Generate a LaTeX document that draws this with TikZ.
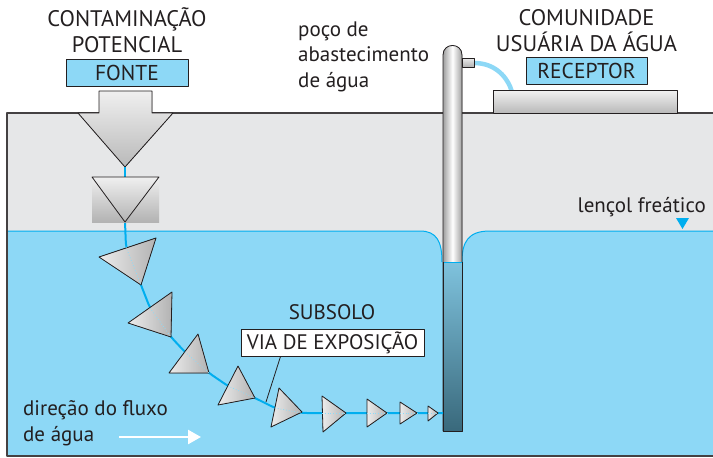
\documentclass[tikz,border=0pt]{standalone}
\usepackage{fontspec}
\setmainfont{PT Sans}
\usetikzlibrary{arrows.meta}
\definecolor{agua}{RGB}{141,216,246}
\definecolor{linha}{RGB}{0,174,239}
\definecolor{solo}{RGB}{230,231,232}
\definecolor{tinta}{RGB}{35,31,32}

\begin{document}
\begin{tikzpicture}[x=1pt, y=-1pt, line join=round,
  every node/.style={text=tinta},
  titulo/.style={inner sep=0pt, font=\fontsize{22.5}{25.5}\selectfont},
  legenda/.style={inner sep=0pt, font=\fontsize{21}{25.5}\selectfont},
  rotulo/.style={draw=tinta, line width=1pt, fill=agua, inner sep=0pt, minimum height=27pt,
    font=\fontsize{21.5}{25}\selectfont},
  caixa/.style={draw=tinta, line width=1pt, fill=white, inner sep=0pt, minimum height=27pt,
    font=\fontsize{21}{25}\selectfont},
  seta/.style={draw=tinta, line width=0.8pt, left color=gray!15, right color=gray!60},
  fluxo/.style={linha, line width=2pt, rounded corners=5pt},
  rastro/.style={linha!45, dotted, line width=0.8pt}]
  \useasboundingbox (0,0) rectangle (713,458);

  % solo e lencol
  \fill[solo] (7,113) rectangle (713,456);
  \fill[agua] (7,231) -- (420,231) .. controls (437,231) and (442,242) .. (442,262)
    -- (462,262) .. controls (462,242) and (468,231) .. (490,231) -- (713,231)
    -- (713,456) -- (7,456) -- cycle;
  \draw[linha, line width=1pt] (7,231) -- (420,231) .. controls (437,231) and (442,242) .. (442,262);
  \draw[linha, line width=1pt] (462,262) .. controls (462,242) and (468,231) .. (490,231) -- (713,231);
  \draw[tinta!85, line width=1.2pt] (713,113) -- (7,113) -- (7,456) -- (713,456);
  \fill[linha] (676,218) -- (689,218) -- (682.5,229) -- cycle;

  % poco
  \draw[agua, line width=4.5pt] (474,63) .. controls (496,63) and (508,78) .. (512,92);
  \filldraw[draw=tinta, line width=0.8pt, left color=gray!75, right color=gray!75, middle color=white]
    (443,431) -- (443,55) .. controls (443,42.3) and (462,42.3) .. (462,55) -- (462,431) -- cycle;
  \fill[top color=agua!90!black, bottom color=agua!45!black!90!linha] (443,262) rectangle (462,431);
  \draw[linha, line width=0.8pt] (443,262) -- (462,262);
  \draw[tinta, line width=0.8pt] (443,262) -- (443,431) -- (462,431) -- (462,262);
  \filldraw[draw=tinta, line width=0.8pt, top color=gray!15, bottom color=gray!60] (462,58) rectangle (474,67);

  % receptor
  \filldraw[draw=tinta, line width=0.8pt, top color=gray!10, bottom color=gray!55] (493,90) rectangle (677,113);

  % fonte
  \filldraw[draw=tinta, line width=0.8pt, top color=gray!12, bottom color=gray!55]
    (99,91) -- (152,91) -- (152,113) -- (173,113) -- (125,167) -- (78,113) -- (99,113) -- cycle;

  % caminho do contaminante
  \coordinate (f0) at (125,167);
  \coordinate (f1) at (125,177);
  \coordinate (f2) at (125,222);
  \coordinate (e1) at (126,247);  \coordinate (s1) at (141,285);
  \coordinate (e2) at (150,308);  \coordinate (s2) at (171,337);
  \coordinate (e3) at (185,352);  \coordinate (s3) at (209,373);
  \coordinate (e4) at (228,386);  \coordinate (s4) at (255,398);
  \coordinate (e5) at (275,408);  \coordinate (s5) at (302,413);
  \coordinate (e6) at (322,413);  \coordinate (s6) at (346,413);
  \coordinate (e7) at (367,413);  \coordinate (s7) at (387,413);
  \coordinate (e8) at (400,413);  \coordinate (s8) at (417,413);
  \coordinate (e9) at (428,413);  \coordinate (s9) at (438,413);
  \coordinate (poco) at (443,413);
  \draw[fluxo] (f0) -- (f1);
  \draw[fluxo] (f2) -- (e1) -- (s1) -- (e2) -- (s2) -- (e3) -- (s3) -- (e4) -- (s4)
    -- (e5) -- (s5) -- (poco);

  \fill[top color=gray!12, bottom color=gray!60] (92,177) rectangle (159,222);
  \draw[tinta, line width=0.8pt] (92,177) -- (159,177) -- (125,222) -- cycle;

  \filldraw[seta] (99,257) -- (156,238) -- (141,285) -- cycle;
  \filldraw[seta] (128,323) -- (172,292) -- (171,337) -- cycle;
  \filldraw[seta] (198,334) -- (169,373) -- (209,373) -- cycle;
  \filldraw[seta] (238,366) -- (218,405) -- (255,398) -- cycle;
  \filldraw[seta] (279,388) -- (271,427) -- (302,412) -- cycle;
  \filldraw[seta] (322,396) -- (323,432) -- (346,413) -- cycle;
  \filldraw[seta] (367,399) -- (367,427) -- (387,413) -- cycle;
  \filldraw[seta] (400,402) -- (400,424) -- (417,413) -- cycle;
  \filldraw[seta] (428,406) -- (428,421) -- (438,413) -- cycle;
  \foreach \i in {1,...,9}
    \draw[rastro] (e\i) -- (s\i);

  % textos (base = ultima linha)
  \node[titulo, anchor=base, align=center] (contam) at (127,52) {CONTAMINAÇÃO\\POTENCIAL};
  \node[rotulo, minimum width=122pt] (fonte) at (127,72.5) {FONTE};
  \node[titulo, anchor=base, align=center] (comunidade) at (586.5,51) {COMUNIDADE\\USUÁRIA DA ÁGUA};
  \node[rotulo, minimum width=121pt] (receptor) at (586.5,70.5) {RECEPTOR};
  \node[legenda, anchor=base west, align=left] (pocotxt) at (298,87) {poço de\\abastecimento\\de água};
  \node[legenda, anchor=base east] (lencol) at (706,212) {lençol freático};
  \node[legenda, anchor=base] (subsolo) at (332,319) {SUBSOLO};
  \node[caixa, minimum width=183pt] (via) at (332.5,342.5) {VIA DE EXPOSIÇÃO};
  \coordinate (viape) at (266,402);
  \draw[tinta, line width=0.8pt] ([xshift=-52pt]via.south) -- (viape);
  \node[legenda, anchor=base west, align=left] (direcao) at (23,441) {direção do fluxo\\de água};
  \coordinate (fluxoA) at (119,437);
  \coordinate (fluxoB) at (201,437);
  \draw[white, line width=2.5pt, -{Triangle[length=13pt, width=14pt]}] (fluxoA) -- (fluxoB);
\end{tikzpicture}
\end{document}
